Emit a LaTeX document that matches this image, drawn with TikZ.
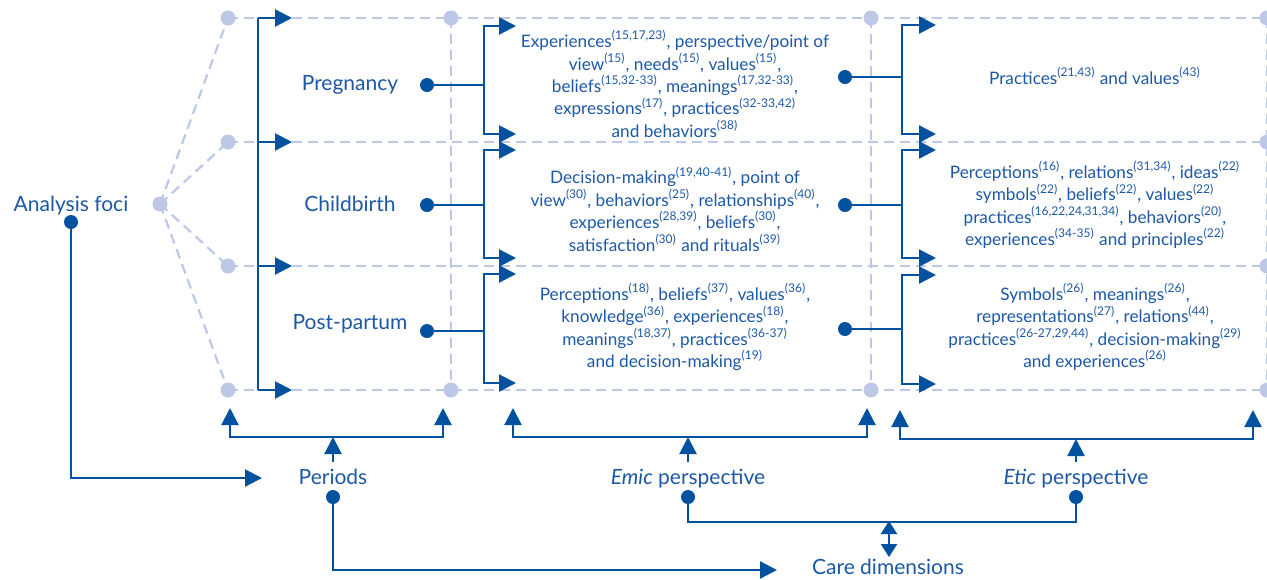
\documentclass[tikz,border=0pt]{standalone}
\usepackage{fontspec}
\setmainfont{Lato}
\usetikzlibrary{arrows.meta}
\definecolor{mblue}{RGB}{0,82,160}
\definecolor{tblue}{RGB}{28,88,165}
\definecolor{lblue}{RGB}{188,200,230}
\newcommand\cit[1]{\textsuperscript{(#1)}}
\begin{document}
\begin{tikzpicture}[x=0.5pt,y=-0.5pt,
  conn/.style={draw=mblue, line width=1.1pt},
  tipst/.style={-{Triangle[length=8.5pt,width=8.5pt]}},
  arr/.style={conn, tipst},
  darr/.style={conn, {Triangle[length=8.5pt,width=8.5pt]}-{Triangle[length=8.5pt,width=8.5pt]}},
  sdarr/.style={conn, {Triangle[length=6.5pt,width=8pt]}-{Triangle[length=6.5pt,width=8pt]}},
  ball/.style={circle, fill=mblue, inner sep=0pt, minimum size=7pt},
  lball/.style={circle, fill=lblue, inner sep=0pt, minimum size=7.5pt},
  gridline/.style={draw=lblue, line width=1.1pt, dash pattern=on 5pt off 3pt},
  lbl/.style={text=tblue, font=\fontsize{10.5}{12}\selectfont, inner sep=0pt},
  body/.style={text=tblue, font=\fontsize{8.6}{11.2}\selectfont, align=center, inner sep=0pt}]
\useasboundingbox (0,0) rectangle (1267,579);

% ---------- grid coordinates ----------
\foreach \n/\y in {1/18,2/142,3/266,4/390}{
  \coordinate (L\n) at (228,\y);
  \coordinate (R\n) at (1267,\y);
  \coordinate (P\n) at (258,\y);
  \coordinate (PT\n) at (292,\y);
}
\coordinate (A1) at (451,18);  \coordinate (A4) at (451,390);
\coordinate (B1) at (871,18);  \coordinate (B4) at (871,390);
\coordinate (F) at (160,204);

% grid lines
\foreach \n in {1,2,3,4}{
  \draw[gridline] (L\n) -- (R\n);
  \draw[gridline] (F) -- (L\n);
}
\draw[gridline] (A1) -- (A4);
\draw[gridline] (B1) -- (B4);
\draw[gridline] (R1) -- (R4);

% light dots
\foreach \n in {1,2,3,4}{
  \node[lball] (dl\n) at (L\n) {};
  \node[lball] (dr\n) at (R\n) {};
}
\node[lball] (da1) at (A1) {};
\node[lball] (da4) at (A4) {};
\node[lball] (db1) at (B1) {};
\node[lball] (db4) at (B4) {};
\node[lball] (df) at (F) {};

% ---------- Periods column ----------
\draw[conn] (P1) -- (P4);
\foreach \n in {1,2,3,4}{ \draw[arr] (P\n) -- (PT\n); }

% ---------- labels ----------
\node[lbl] (foci) at (71,206) {Analysis foci};
\node[ball] (fociD) at (71,222) {};
\node[lbl] (preg) at (350,85) {Pregnancy};
\node[lbl] (child) at (350,204) {Childbirth};
\node[lbl] (post) at (350,324) {Post-partum};
\node[ball] (pregD) at (427,85) {};
\node[ball] (childD) at (427,205) {};
\node[ball] (postD) at (427,331) {};

% ---------- emic brackets ----------
\coordinate (e1) at (484,85);  \coordinate (e1t) at (516,26);  \coordinate (e1b) at (516,134);
\coordinate (e2) at (484,205); \coordinate (e2t) at (516,150); \coordinate (e2b) at (516,258);
\coordinate (e3) at (484,331); \coordinate (e3t) at (516,274); \coordinate (e3b) at (516,383);
\draw[conn] (pregD.center) -- (e1);
\draw[conn] (childD.center) -- (e2);
\draw[conn] (postD.center) -- (e3);
\foreach \n in {1,2,3}{
  \draw[arr] (e\n) |- (e\n t);
  \draw[arr] (e\n) |- (e\n b);
}

% emic texts
\node[body] (em1) at (675,84) {Experiences\cit{15,17,23}, perspective/point of\\
 view\cit{15}, needs\cit{15}, values\cit{15},\\
 beliefs\cit{15,32-33}, meanings\cit{17,32-33},\\
 expressions\cit{17}, practices\cit{32-33,42}\\
 and behaviors\cit{38}};
\node[body] (em2) at (675,209) {Decision-making\cit{19,40-41}, point of\\
 view\cit{30}, behaviors\cit{25}, relationships\cit{40},\\
 experiences\cit{28,39}, beliefs\cit{30},\\
 satisfaction\cit{30} and rituals\cit{39}};
\node[body] (em3) at (675,327) {Perceptions\cit{18}, beliefs\cit{37}, values\cit{36},\\
 knowledge\cit{36}, experiences\cit{18},\\
 meanings\cit{18,37}, practices\cit{36-37}\\
 and decision-making\cit{19}};

% ---------- etic brackets ----------
\node[ball] (et1D) at (845,77) {};
\node[ball] (et2D) at (845,205) {};
\node[ball] (et3D) at (845,329) {};
\coordinate (t1) at (902,77);  \coordinate (t1t) at (936,25);  \coordinate (t1b) at (936,134);
\coordinate (t2) at (902,205); \coordinate (t2t) at (936,150); \coordinate (t2b) at (936,258);
\coordinate (t3) at (902,329); \coordinate (t3t) at (936,275); \coordinate (t3b) at (936,384);
\draw[conn] (et1D.center) -- (t1);
\draw[conn] (et2D.center) -- (t2);
\draw[conn] (et3D.center) -- (t3);
\foreach \n in {1,2,3}{
  \draw[arr] (t\n) |- (t\n t);
  \draw[arr] (t\n) |- (t\n b);
}

% etic texts
\node[body] (et1) at (1095,76) {Practices\cit{21,43} and values\cit{43}};
\node[body] (et2) at (1095,205) {Perceptions\cit{16}, relations\cit{31,34}, ideas\cit{22}\\
 symbols\cit{22}, beliefs\cit{22}, values\cit{22}\\
 practices\cit{16,22,24,31,34}, behaviors\cit{20},\\
 experiences\cit{34-35} and principles\cit{22}};
\node[body] (et3) at (1095,327) {Symbols\cit{26}, meanings\cit{26},\\
 representations\cit{27}, relations\cit{44},\\
 practices\cit{26-27,29,44}, decision-making\cit{29}\\
 and experiences\cit{26}};

% ---------- bottom labels ----------
\node[lbl] (periods) at (333,477) {Periods};
\node[lbl] (emic) at (688,479) {\textit{Emic} perspective};
\node[lbl] (etic) at (1076,479) {\textit{Etic} perspective};
\node[lbl] (care) at (888,567) {Care dimensions};
\node[ball] (periodsD) at (333,497) {};
\node[ball] (emicD) at (688,497) {};
\node[ball] (eticD) at (1076,497) {};

% periods bracket
\coordinate (pb1) at (230,408); \coordinate (pb2) at (230,437);
\coordinate (pb3) at (443,437); \coordinate (pb4) at (443,408);
\coordinate (pbm) at (333,437); \coordinate (pbs) at (333,462);
\draw[darr] (pb1) -- (pb2) -- (pb3) -- (pb4);
\draw[arr] (pbs) -- (pbm);

% emic bracket
\coordinate (mb1) at (513,408); \coordinate (mb2) at (513,437);
\coordinate (mb3) at (867,437); \coordinate (mb4) at (867,408);
\coordinate (mbm) at (688,437); \coordinate (mbs) at (688,462);
\draw[darr] (mb1) -- (mb2) -- (mb3) -- (mb4);
\draw[arr] (mbs) -- (mbm);

% etic bracket
\coordinate (tb1) at (900,410); \coordinate (tb2) at (900,439);
\coordinate (tb3) at (1253,439); \coordinate (tb4) at (1253,410);
\coordinate (tbm) at (1076,439); \coordinate (tbs) at (1076,462);
\draw[darr] (tb1) -- (tb2) -- (tb3) -- (tb4);
\draw[arr] (tbs) -- (tbm);

% emic/etic to care dimensions
\coordinate (cj1) at (688,522); \coordinate (cj2) at (1076,522);
\coordinate (cdt) at (889,521); \coordinate (cdb) at (889,557);
\draw[conn] (emicD.center) -- (cj1) -- (cj2) -- (eticD.center);
\draw[sdarr] (cdt) -- (cdb);

% periods to care dimensions
\coordinate (pc1) at (333,570); \coordinate (pc2) at (777,570);
\draw[arr] (periodsD.center) -- (pc1) -- (pc2);

% analysis foci to periods
\coordinate (fp1) at (71,478); \coordinate (fp2) at (262,478);
\draw[arr] (fociD.center) -- (fp1) -- (fp2);
\end{tikzpicture}
\end{document}
